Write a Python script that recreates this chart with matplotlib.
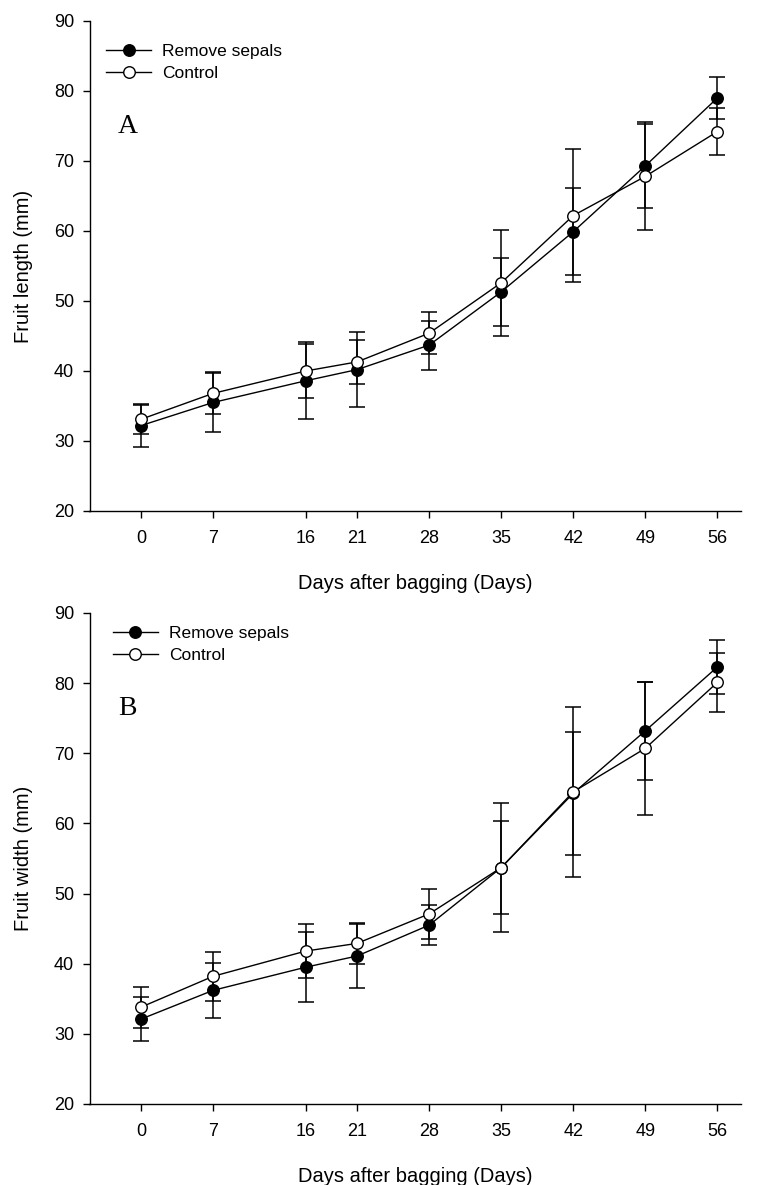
import matplotlib
matplotlib.use("Agg")
import matplotlib.pyplot as plt

plt.rcParams['font.family'] = ['Liberation Sans', 'DejaVu Sans']

days = [0, 7, 16, 21, 28, 35, 42, 49, 56]

# Panel A: fruit length (mm)
len_remove = [32.2, 35.5, 38.6, 40.2, 43.7, 51.3, 59.9, 69.3, 79.0]
len_remove_err = [3.1, 4.2, 5.5, 5.3, 3.5, 4.9, 6.2, 6.0, 3.0]
len_control = [33.1, 36.8, 40.0, 41.3, 45.4, 52.6, 62.2, 67.8, 74.2]
len_control_err = [2.1, 3.0, 3.9, 3.1, 3.0, 7.6, 9.5, 7.7, 3.3]

# Panel B: fruit width (mm)
wid_remove = [32.1, 36.2, 39.5, 41.1, 45.5, 53.7, 64.3, 73.2, 82.3]
wid_remove_err = [3.1, 3.9, 5.0, 4.5, 2.9, 6.6, 8.8, 7.0, 3.8]
wid_control = [33.8, 38.2, 41.8, 42.9, 47.1, 53.7, 64.5, 70.7, 80.1]
wid_control_err = [2.9, 3.5, 3.9, 2.9, 3.6, 9.2, 12.1, 9.5, 4.2]

yticks = [20, 30, 40, 50, 60, 70, 80, 90]
series_labels = ["Remove sepals", "Control"]
panel_letters = ["A", "B"]
ylabels = ["Fruit length (mm)", "Fruit width (mm)"]
xlabel = "Days after bagging (Days)"

W, H = 762, 1185
fig = plt.figure(figsize=(W / 100, H / 100), dpi=100)

def px_axes(left, top, right, bottom):
    return fig.add_axes([left / W, 1 - bottom / H, (right - left) / W, (bottom - top) / H])

axA = px_axes(89.5, 21, 741, 511)
axB = px_axes(89.5, 613, 741, 1104)

panels = [
    (axA, len_remove, len_remove_err, len_control, len_control_err, (0.012, 0.971), 0.771),
    (axB, wid_remove, wid_remove_err, wid_control, wid_control_err, (0.022, 0.992), 0.792),
]

for i, (ax, rm, rme, ct, cte, leg_anchor, letter_y) in enumerate(panels):
    ekw = dict(ecolor='black', elinewidth=1.1, capsize=5.5, capthick=1.1)
    ax.errorbar(days, rm, yerr=rme, fmt='none', zorder=2, **ekw)
    ax.errorbar(days, ct, yerr=cte, fmt='none', zorder=2, **ekw)
    ax.plot(days, rm, '-o', color='black', lw=1.0, ms=8.3, mfc='black', mec='black',
            mew=1.0, zorder=3, label=series_labels[0])
    ax.plot(days, ct, '-o', color='black', lw=1.0, ms=8.3, mfc='white', mec='black',
            mew=1.0, zorder=4, label=series_labels[1])

    ax.set_xlim(-5, 58.3)
    ax.set_ylim(20, 90)
    ax.set_xticks(days)
    ax.set_yticks(yticks)
    for s in ['top', 'right']:
        ax.spines[s].set_visible(False)
    for s in ['left', 'bottom']:
        ax.spines[s].set_linewidth(1.0)
    ax.tick_params(direction='out', length=5, width=1.0, labelsize=13)
    ax.tick_params(axis='y', pad=6)
    ax.tick_params(axis='x', pad=9)
    ax.set_ylabel(ylabels[i], fontsize=14.5, labelpad=15)
    ax.set_xlabel(xlabel, fontsize=14.5, labelpad=19)

    ax.legend(loc='upper left', bbox_to_anchor=leg_anchor, frameon=False,
              fontsize=12.5, handlelength=2.6, handletextpad=0.65,
              labelspacing=0.4, borderaxespad=0.3, borderpad=0.2,
              markerscale=1.0)
    ax.text(0.0436, letter_y, panel_letters[i], transform=ax.transAxes,
            fontsize=20, family='Liberation Serif', ha='left', va='baseline')

fig.savefig("out.png", dpi=100)
